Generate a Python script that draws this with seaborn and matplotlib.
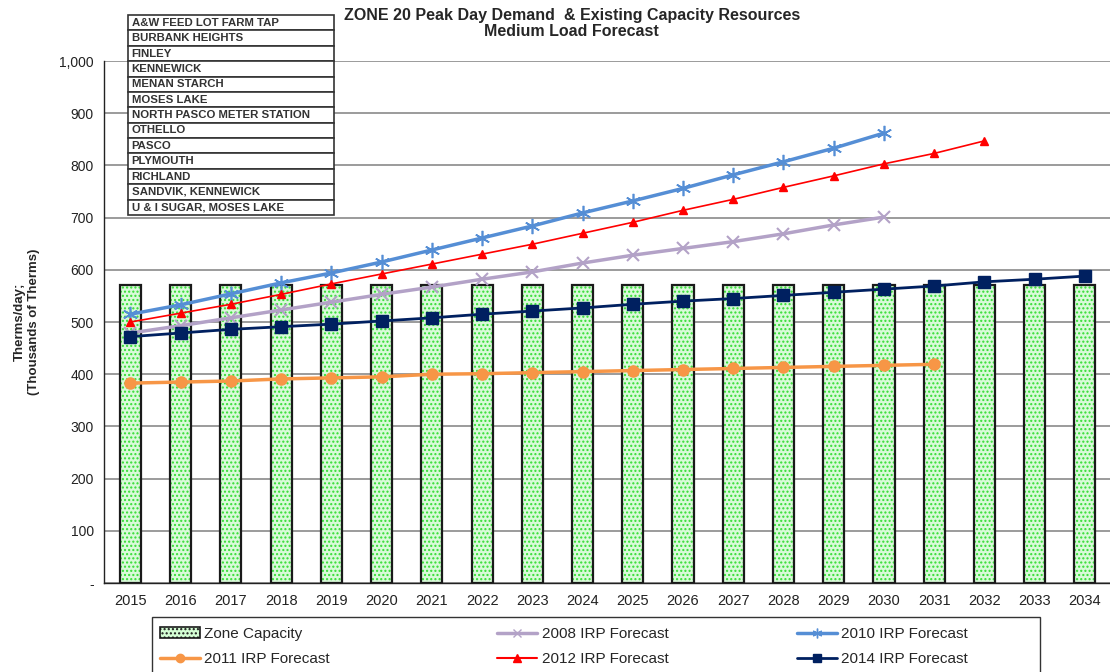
import numpy as np
import pandas as pd
import seaborn as sns
import matplotlib.pyplot as plt
from matplotlib.lines import Line2D
from matplotlib.patches import Patch, Rectangle
from matplotlib.ticker import FixedLocator, FuncFormatter

# ==========================================
# Data
# ==========================================
years = list(range(2015, 2035))
capacity = [570] * 20

irp_2008 = [479, 493, 508, 523, 538, 553, 567, 582, 596, 613, 628, 641, 654, 669, 686, 701]   # 2015-2030
irp_2010 = [515, 533, 554, 575, 594, 615, 638, 661, 684, 709, 732, 756, 782, 807, 833, 862]   # 2015-2030
irp_2011 = [383, 385, 387, 391, 393, 395, 400, 401, 403, 405, 407, 409, 411, 413, 415, 417, 419]  # 2015-2031
irp_2012 = [500, 517, 534, 553, 573, 592, 611, 630, 649, 670, 691, 714, 735, 758, 780, 803, 823, 847]  # 2015-2032
irp_2014 = [472, 479, 486, 491, 496, 502, 508, 515, 521, 527, 534, 540, 545, 551, 557, 563,
            569, 577, 582, 588]  # 2015-2034

stations = ["A&W FEED LOT FARM TAP", "BURBANK HEIGHTS", "FINLEY", "KENNEWICK",
            "MENAN STARCH", "MOSES LAKE", "NORTH PASCO METER STATION", "OTHELLO",
            "PASCO", "PLYMOUTH", "RICHLAND", "SANDVIK, KENNEWICK", "U & I SUGAR, MOSES LAKE"]

# ==========================================
# Style
# ==========================================
sns.set_style("white")
plt.rcParams['font.family'] = ['Liberation Sans', 'DejaVu Sans']

fig = plt.figure(figsize=(11.1, 6.72), dpi=100)
ax = fig.add_axes([0.094, 0.1324, 0.906, 0.7768])

cap_df = pd.DataFrame({'year': years, 'capacity': capacity})

# Capacity bars: dotted green fill, then black outline on top
sns.barplot(data=cap_df, x='year', y='capacity', native_scale=True, width=0.42,
            color='#d4ffd4', edgecolor='#33dd33', hatch='....', linewidth=0,
            ax=ax, zorder=2)
sns.barplot(data=cap_df, x='year', y='capacity', native_scale=True, width=0.42,
            fill=False, edgecolor='#1a1a1a', linewidth=1.6, ax=ax, zorder=3)

# Forecast lines
series = [
    (irp_2008, '#b3a2c7', 'x', 8, 2.5, 1.5),
    (irp_2010, '#558ed5', (6, 2, 0), 11, 2.5, 1.2),
    (irp_2011, '#f79646', 'o', 8, 2.5, 1.0),
    (irp_2012, '#ff0000', '^', 6, 1.2, 1.0),
    (irp_2014, '#002060', 's', 8, 2.0, 1.0),
]
for vals, col, mk, ms, lw, mew in series:
    sns.lineplot(x=years[:len(vals)], y=vals, color=col, marker=mk, markersize=ms,
                 linewidth=lw, markeredgecolor=col, markeredgewidth=mew, ax=ax, zorder=5)

# Axes
ax.set_xlim(2014.48, 2034.5)
ax.set_ylim(0, 1000)
ax.set_yticks(range(0, 1001, 100))
ax.yaxis.set_major_formatter(FuncFormatter(lambda v, p: '-' if v == 0 else f'{int(v):,}'))
ax.set_xticks(years)
ax.set_xticklabels([str(y) for y in years])
ax.xaxis.set_minor_locator(FixedLocator([y + 0.5 for y in range(2014, 2035)]))
ax.tick_params(axis='x', which='major', length=0, labelsize=10.5, pad=8, colors='#222222')
ax.tick_params(axis='x', which='minor', length=4, direction='out', color='#222222')
ax.tick_params(axis='y', which='major', length=4, direction='out', labelsize=10, colors='#222222')
ax.grid(axis='y', color='#808080', linewidth=1.1, zorder=0)
ax.set_axisbelow(True)
for s in ['top', 'right']:
    ax.spines[s].set_visible(False)
for s in ['left', 'bottom']:
    ax.spines[s].set_color('#222222')
    ax.spines[s].set_linewidth(1.0)
ax.set_xlabel('')
ax.set_ylabel('Therms/day;\n(Thousands of Therms)', fontsize=9.5, fontweight='bold', labelpad=14)

# Titles
fig.text(0.515, 0.977, 'ZONE 20 Peak Day Demand  & Existing Capacity Resources',
         ha='center', va='center', fontsize=11.5, fontweight='bold')
fig.text(0.515, 0.953, 'Medium Load Forecast', ha='center', va='center',
         fontsize=11.5, fontweight='bold')

# Station list table
tbl = ax.table(cellText=[[s] for s in stations], cellLoc='left',
               bbox=[0.024, 0.705, 0.204, 0.383], zorder=6)
tbl.auto_set_font_size(False)
tbl.set_fontsize(8.2)
for (r, c), cell in tbl.get_celld().items():
    cell.set_edgecolor('#333333')
    cell.set_linewidth(1.2)
    cell.set_facecolor('white')
    cell.PAD = 0.015
    cell.get_text().set_fontweight('bold')
    cell.get_text().set_color('#333333')

# Legend (frame drawn separately, it runs off the bottom edge)
fig.patches.append(Rectangle((0.137, -0.02), 0.8, 0.102, transform=fig.transFigure,
                             fill=False, edgecolor='#333333', linewidth=1.0))
legend_cols = [
    (0.144, [Patch(facecolor='#d4ffd4', edgecolor='#1a1a1a', hatch='....', linewidth=1.2,
                   label='Zone Capacity'),
             Line2D([], [], color='#f79646', marker='o', markersize=6, linewidth=2.5,
                    label='2011 IRP Forecast')]),
    (0.448, [Line2D([], [], color='#b3a2c7', marker='x', markersize=6, linewidth=2.5,
                    label='2008 IRP Forecast'),
             Line2D([], [], color='#ff0000', marker='^', markersize=6, linewidth=1.5,
                    label='2012 IRP Forecast')]),
    (0.718, [Line2D([], [], color='#558ed5', marker=(6, 2, 0), markersize=7, linewidth=2.5,
                    label='2010 IRP Forecast'),
             Line2D([], [], color='#002060', marker='s', markersize=6, linewidth=2.0,
                    label='2014 IRP Forecast')]),
]
for x0, hs in legend_cols:
    fig.legend(handles=hs, loc='upper left', bbox_to_anchor=(x0, 0.067), ncol=1,
               fontsize=11, frameon=False, handlelength=2.6, handletextpad=0.3,
               borderpad=0, labelspacing=0.75, borderaxespad=0)

plt.savefig('out.png', dpi=100)
